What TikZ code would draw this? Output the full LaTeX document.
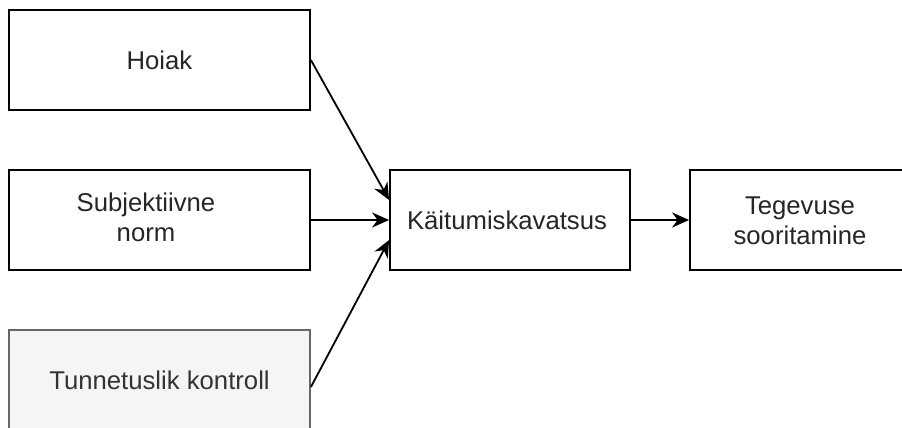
\documentclass[tikz,border=0pt]{standalone}
\usepackage{fontspec}
\setmainfont{Liberation Sans}
\usetikzlibrary{arrows.meta}
\definecolor{txtgray}{HTML}{333333}
\definecolor{boxgray}{HTML}{666666}
\definecolor{fillgray}{HTML}{F5F5F5}
\tikzset{
  box/.style={draw=black, line width=1.8pt, fill=white, minimum width=301pt, minimum height=100pt, inner sep=0pt},
  graybox/.style={draw=boxgray, line width=1.8pt, fill=fillgray, minimum width=301pt, minimum height=114pt, inner sep=0pt},
  midbox/.style={draw=black, line width=1.8pt, fill=white, minimum width=240pt, minimum height=100pt, inner sep=0pt},
  lbl/.style={font=\fontsize{25.7}{30}\selectfont, text=black!85, align=center, inner sep=0pt},
  conn/.style={line width=1.8pt, -{Stealth[length=17pt, width=15pt, inset=5.5pt]}}
}
\begin{document}
\begin{tikzpicture}[x=1pt, y=-1pt]
\useasboundingbox (0,0) rectangle (902,428);
\node[box] (hoiak) at (159.5,60) {};
\node[lbl] (hoiakT) at (159.5,60) {Hoiak};
\node[box] (subj) at (159.5,220) {};
\node[lbl] (subjT) at (146,217) {Subjektiivne\\norm};
\node[graybox] (tunn) at (159.5,387) {};
\node[lbl, text=txtgray] (tunnT) at (159.5,380) {Tunnetuslik kontroll};
\node[midbox] (kait) at (510,220) {};
\node[lbl] (kaitT) at (507,220) {Käitumiskavatsus};
\node[midbox] (teg) at (810,220) {};
\node[lbl] (tegT) at (800,221) {Tegevuse\\sooritamine};
\draw[conn] (hoiak.east) -- ([yshift=20pt]kait.west);
\draw[conn] (subj.east) -- (kait.west);
\draw[conn] (tunn.east) -- ([yshift=-20pt]kait.west);
\draw[conn] (kait.east) -- (teg.west);
\end{tikzpicture}
\end{document}
